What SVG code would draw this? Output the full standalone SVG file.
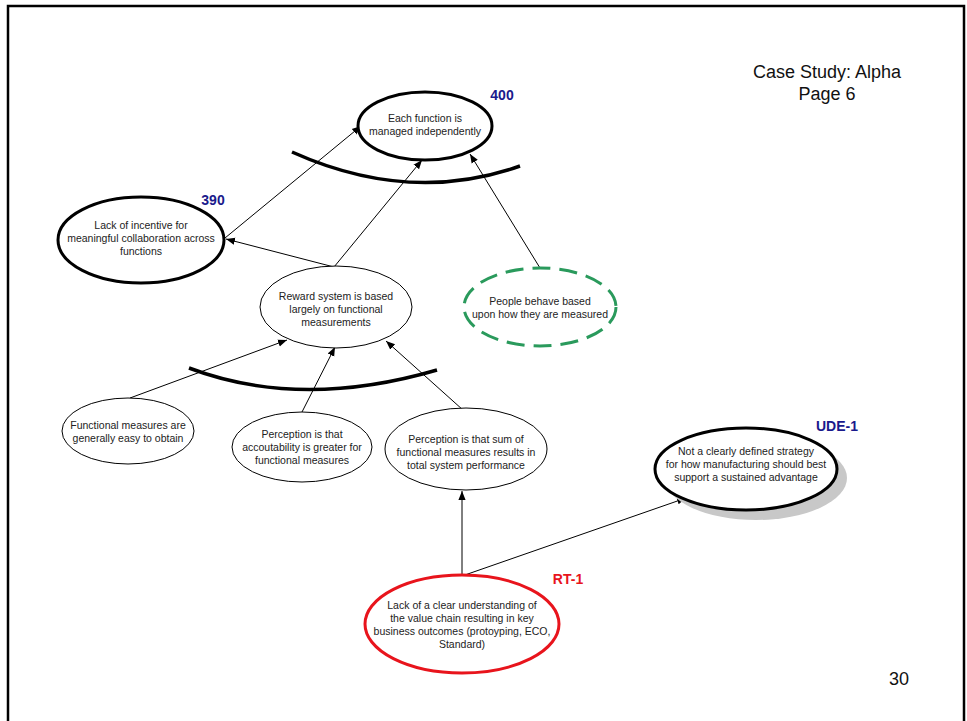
<svg xmlns="http://www.w3.org/2000/svg" width="967" height="721" viewBox="0 0 967 721">
  <style>
    .txt { font-family: "Liberation Sans", Arial, sans-serif; font-size: 10.5px; fill: #222; text-anchor: middle; }
    .tag { font-family: "Liberation Sans", Arial, sans-serif; font-size: 14px; font-weight: bold; }
    .navy { fill: #1a1a8c; }
    .red { fill: #e8141c; }
    .big { font-family: "Liberation Sans", Arial, sans-serif; font-size: 18px; fill: #111; text-anchor: middle; }
    .thick { fill: #fff; stroke: #000; stroke-width: 3; }
    .thin { fill: #fff; stroke: #000; stroke-width: 1; }
    .arc { fill: none; stroke: #000; stroke-width: 3.5; }
    .edge { fill: none; stroke: #000; stroke-width: 1; marker-end: url(#arrow); }
  </style>
  <defs>
    <marker id="arrow" viewBox="0 0 10 10" refX="10" refY="5" markerWidth="9" markerHeight="9" markerUnits="userSpaceOnUse" orient="auto">
      <path d="M0,1 L10,5 L0,9 Z" fill="#000"/>
    </marker>
  </defs>

  <rect x="0" y="0" width="967" height="721" fill="#fff"/>
  <!-- page frame -->
  <rect x="8" y="6" width="956" height="730" fill="none" stroke="#000" stroke-width="2.5"/>

  <text class="big" x="827" y="78">Case Study: Alpha</text>
  <text class="big" x="827" y="100">Page 6</text>
  <text class="big" x="899" y="685">30</text>

  <!-- "and" bars -->
  <path class="arc" d="M292,152 Q410,205 520,166"/>
  <path class="arc" d="M189,368 Q300,410 437,370"/>

  <g id="connectors">
    <line class="edge" x1="225" y1="238" x2="361" y2="126"/>
    <line class="edge" x1="334" y1="267" x2="422" y2="160"/>
    <line class="edge" x1="540" y1="268" x2="470" y2="154"/>
    <line class="edge" x1="334" y1="267" x2="226" y2="239"/>
    <line class="edge" x1="130" y1="398" x2="287" y2="340"/>
    <line class="edge" x1="302" y1="412" x2="335" y2="347"/>
    <line class="edge" x1="463" y1="410" x2="386" y2="341"/>
    <line class="edge" x1="462" y1="576" x2="462" y2="491"/>
    <line class="edge" x1="462" y1="576" x2="686" y2="498"/>
  </g>

  <g id="n400">
    <ellipse class="thick" cx="425" cy="126" rx="67" ry="34"/>
    <text class="txt" x="425" y="122">Each function is</text>
    <text class="txt" x="425" y="135">managed independently</text>
    <text class="tag navy" x="502" y="100" text-anchor="middle">400</text>
  </g>

  <g id="n390">
    <ellipse class="thick" cx="141" cy="240" rx="83" ry="43"/>
    <text class="txt" x="141" y="229">Lack of incentive for</text>
    <text class="txt" x="141" y="242">meaningful collaboration across</text>
    <text class="txt" x="141" y="255">functions</text>
    <text class="tag navy" x="213" y="205" text-anchor="middle">390</text>
  </g>

  <g id="reward">
    <ellipse class="thin" cx="336" cy="307" rx="76" ry="41"/>
    <text class="txt" x="336" y="300">Reward system is based</text>
    <text class="txt" x="336" y="313">largely on functional</text>
    <text class="txt" x="336" y="326">measurements</text>
  </g>

  <g id="people">
    <ellipse cx="540" cy="307" rx="76" ry="39" fill="#fff" stroke="#2a9a5c" stroke-width="3" stroke-dasharray="18,9"/>
    <text class="txt" x="540" y="305">People behave based</text>
    <text class="txt" x="540" y="318">upon how they are measured</text>
  </g>

  <g id="easy">
    <ellipse class="thin" cx="128" cy="431" rx="66" ry="33"/>
    <text class="txt" x="128" y="429">Functional measures are</text>
    <text class="txt" x="128" y="442">generally easy to obtain</text>
  </g>

  <g id="accountability">
    <ellipse class="thin" cx="302" cy="447" rx="70" ry="35"/>
    <text class="txt" x="302" y="438">Perception is that</text>
    <text class="txt" x="302" y="451">accoutability is greater for</text>
    <text class="txt" x="302" y="464">functional measures</text>
  </g>

  <g id="sum">
    <ellipse class="thin" cx="466" cy="449" rx="81" ry="41"/>
    <text class="txt" x="466" y="443">Perception is that sum of</text>
    <text class="txt" x="466" y="456">functional measures results in</text>
    <text class="txt" x="466" y="469">total system performance</text>
  </g>

  <g id="ude1">
    <ellipse cx="756" cy="478" rx="91" ry="42" fill="#c8c8c8"/>
    <ellipse class="thick" cx="746" cy="469" rx="91" ry="41"/>
    <text class="txt" x="746" y="455">Not a clearly defined strategy</text>
    <text class="txt" x="746" y="468">for how manufacturing should best</text>
    <text class="txt" x="746" y="481">support a sustained advantage</text>
    <text class="tag navy" x="837" y="431" text-anchor="middle">UDE-1</text>
  </g>

  <g id="rt1">
    <ellipse cx="462" cy="624" rx="97" ry="49" fill="#fff" stroke="#e8141c" stroke-width="3"/>
    <text class="txt" x="462" y="609">Lack of a clear understanding of</text>
    <text class="txt" x="462" y="622">the value chain resulting in key</text>
    <text class="txt" x="462" y="635">business outcomes (protoyping, ECO,</text>
    <text class="txt" x="462" y="648">Standard)</text>
    <text class="tag red" x="568" y="584" text-anchor="middle">RT-1</text>
  </g>
</svg>
